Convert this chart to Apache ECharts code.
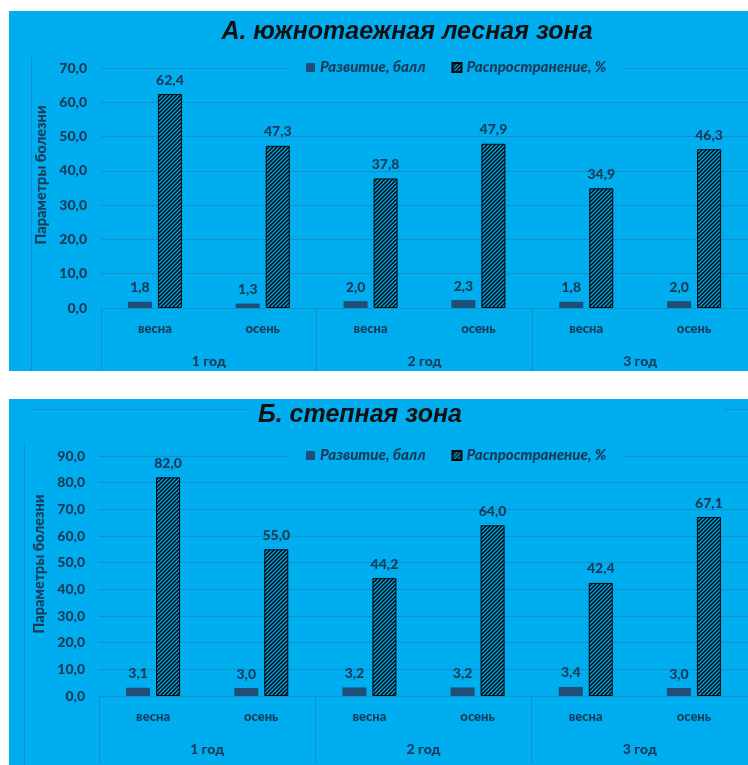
<!DOCTYPE html>
<html>
<head>
<meta charset="utf-8">
<title>Параметры болезни</title>
<script src="https://cdn.jsdelivr.net/npm/echarts@6/dist/echarts.min.js"></script>
<style>
  html, body { margin: 0; padding: 0; background: #ffffff; }
  #chart { width: 748px; height: 765px; }
</style>
</head>
<body>
<div id="chart"></div>
<script>
// Seasons and years for the two-level category axis
const seasons = ['весна', 'осень', 'весна', 'осень', 'весна', 'осень'];
const years = ['1 год', '2 год', '3 год'];
const seriesNames = ['Развитие, балл', 'Распространение, %'];

// А. южнотаежная лесная зона
const forestDevelopment = [1.8, 1.3, 2.0, 2.3, 1.8, 2.0];
const forestSpread = [62.4, 47.3, 37.8, 47.9, 34.9, 46.3];

// Б. степная зона
const steppeDevelopment = [3.1, 3.0, 3.2, 3.2, 3.4, 3.0];
const steppeSpread = [82.0, 55.0, 44.2, 64.0, 42.4, 67.1];

const titles = ['А. южнотаежная лесная зона', 'Б. степная зона'];
const yAxisName = 'Параметры болезни';

const BG = '#00adee';
const GRID = '#1590c4';
const TEXT = '#163a57';
const BAR = '#1f4e79';
const FONT = 'Lato, "Open Sans", sans-serif';
const W = 900;

// diagonal hatch fill
function hatchPattern() {
  const s = 4;
  const c = document.createElement('canvas');
  c.width = s; c.height = s;
  const g = c.getContext('2d');
  g.fillStyle = BG;
  g.fillRect(0, 0, s, s);
  g.strokeStyle = '#050505';
  g.lineWidth = 1.55;
  g.beginPath();
  g.moveTo(-1, s + 1); g.lineTo(s + 1, -1);
  g.moveTo(-1, 1); g.lineTo(1, -1);
  g.moveTo(s - 1, s + 1); g.lineTo(s + 1, s - 1);
  g.stroke();
  return c;
}
const hatch = { image: hatchPattern(), repeat: 'repeat' };

const comma = v => Number(v).toFixed(1).replace('.', ',');

const panels = [
  { top: 68, left: 101, width: 653, height: 240, max: 70, dev: forestDevelopment, spr: forestSpread, tick: 63, titleX: 402, titleY: 15, legendTop: 58, namePad: 26 },
  { top: 456, left: 99, width: 651, height: 240, max: 90, dev: steppeDevelopment, spr: steppeSpread, tick: 67, titleX: 355, titleY: 398, legendTop: 446, namePad: 24 }
];

const grid = [], xAxis = [], yAxis = [], series = [], legend = [], title = [];

panels.forEach((p, i) => {
  grid.push({ left: p.left, top: p.top, width: p.width, height: p.height, containLabel: false });

  xAxis.push({
    type: 'category', gridIndex: i, data: seasons, position: 'bottom',
    axisLine: { show: true, lineStyle: { color: GRID, width: 1 } },
    axisTick: { show: false },
    axisLabel: { margin: 14, color: TEXT, fontFamily: FONT, fontWeight: W, fontSize: 13 }
  });
  xAxis.push({
    type: 'category', gridIndex: i, data: years, position: 'bottom',
    axisLine: { show: false },
    axisTick: { show: true, length: p.tick, interval: 0, lineStyle: { color: GRID, width: 1 } },
    axisLabel: { margin: 46, color: TEXT, fontFamily: FONT, fontWeight: W, fontSize: 14 },
    splitLine: { show: false }
  });

  yAxis.push({
    type: 'value', gridIndex: i, min: 0, max: p.max, interval: 10,
    name: yAxisName, nameLocation: 'middle', nameRotate: 90, nameGap: 51,
    nameTextStyle: { color: TEXT, fontFamily: FONT, fontWeight: W, fontSize: 14.5, padding: [0, 0, 0, p.namePad] },
    axisLine: { show: false }, axisTick: { show: false },
    axisLabel: { margin: 14, color: TEXT, fontFamily: FONT, fontWeight: W, fontSize: 14, formatter: comma },
    splitLine: { lineStyle: { color: GRID, width: 1 } }
  });

  const label = {
    show: true, position: 'top', distance: 7, color: TEXT,
    fontFamily: FONT, fontWeight: W, fontSize: 14,
    formatter: prm => comma(prm.value)
  };

  series.push({
    name: seriesNames[0], type: 'bar', xAxisIndex: i * 2, yAxisIndex: i,
    data: p.dev, barWidth: 24, barGap: '25%',
    itemStyle: { color: BAR },
    label: label
  });
  series.push({
    name: seriesNames[1], type: 'bar', xAxisIndex: i * 2, yAxisIndex: i,
    data: p.spr, barWidth: 24, barGap: '25%',
    itemStyle: { color: hatch, borderColor: '#050505', borderWidth: 1 },
    label: label
  });

  legend.push({
    data: seriesNames, left: 288, top: p.legendTop, orient: 'horizontal',
    backgroundColor: BG, padding: [2, 18], itemGap: 26,
    icon: 'rect', itemWidth: 9, itemHeight: 9, itemTextGap: 4,
    textStyle: { color: TEXT, fontFamily: FONT, fontWeight: W, fontStyle: 'italic', fontSize: 15 }
  });

  title.push({
    text: titles[i], left: p.titleX, top: p.titleY, textAlign: 'center',
    textStyle: { color: '#111111', fontFamily: '"Liberation Sans", Arial, sans-serif', fontWeight: 'bold', fontStyle: 'italic', fontSize: 25 }
  });
});

const chart = echarts.init(document.getElementById('chart'), null, { renderer: 'canvas', width: 748, height: 765 });
chart.setOption({
  backgroundColor: '#ffffff',
  animation: false,
  graphic: [
    { type: 'rect', z: -10, shape: { x: 9, y: 11, width: 745, height: 360 }, style: { fill: BG } },
    { type: 'rect', z: -10, shape: { x: 9, y: 399, width: 745, height: 370 }, style: { fill: BG } },
    { type: 'line', z: -5, shape: { x1: 31.5, y1: 57, x2: 31.5, y2: 371 }, style: { stroke: GRID, lineWidth: 1 } },
    { type: 'line', z: -5, shape: { x1: 31, y1: 409.5, x2: 250, y2: 409.5 }, style: { stroke: GRID, lineWidth: 1 } },
    { type: 'line', z: -5, shape: { x1: 724, y1: 409.5, x2: 754, y2: 409.5 }, style: { stroke: GRID, lineWidth: 1 } },
    { type: 'line', z: -5, shape: { x1: 24.5, y1: 442, x2: 24.5, y2: 765 }, style: { stroke: GRID, lineWidth: 1 } }
  ],
  title: title,
  legend: legend,
  grid: grid,
  xAxis: xAxis,
  yAxis: yAxis,
  series: series
});
</script>
</body>
</html>
